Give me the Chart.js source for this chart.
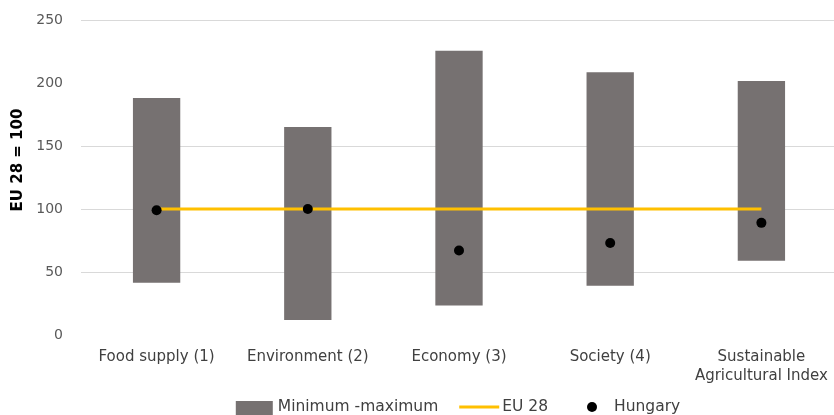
<!DOCTYPE html>
<html>
<head>
<meta charset="utf-8">
<script src="https://cdn.jsdelivr.net/npm/chart.js@4"></script>
<style>
  html, body { margin: 0; padding: 0; background: #fff; overflow: hidden; }
  #wrap { width: 842px; height: 415px; }
</style>
</head>
<body>
<div id="wrap"><canvas id="c" width="842" height="415"></canvas></div>
<script>
// Pillar categories of the sustainable agriculture index
const categories = ['Food supply (1)', 'Environment (2)', 'Economy (3)', 'Society (4)', ['Sustainable', 'Agricultural Index']];
// Range across member states (EU 28 = 100)
const minValues = [41.5, 12, 23.5, 39, 59];
const maxValues = [188, 165, 225.5, 208.5, 201.5];
// EU 28 reference level
const eu28Values = [100, 100, 100, 100, 100];
// Hungary's scores
const hungaryValues = [99, 100, 67, 73, 89];
// Y axis ticks
const yTicks = [0, 50, 100, 150, 200, 250];
const hiddenGridValues = [0, 200];
const yAxisTitle = 'EU 28 = 100';

const FONT = 'DejaVu Sans';

const rangeData = minValues.map((v, i) => [v, maxValues[i]]);

// Axis title and legend row drawn on top of the chart
const decorPlugin = {
  id: 'decor',
  afterDraw(chart) {
    const ctx = chart.ctx;
    const ds = chart.data.datasets;
    const area = chart.chartArea;

    // rotated y axis title
    ctx.save();
    ctx.translate(18, 160);
    ctx.rotate(-Math.PI / 2);
    ctx.font = 'bold 15px "' + FONT + '"';
    ctx.fillStyle = '#000000';
    ctx.textAlign = 'center';
    ctx.textBaseline = 'middle';
    ctx.fillText(yAxisTitle, 0, 0);
    ctx.restore();

    // legend
    const y = 407;
    ctx.save();
    ctx.font = '15.5px "' + FONT + '"';
    ctx.textBaseline = 'middle';
    const t0 = ds[2].label, t1 = ds[1].label, t2 = ds[0].label;
    const w0 = ctx.measureText(t0).width, w1 = ctx.measureText(t1).width, w2 = ctx.measureText(t2).width;
    const total = 37 + 5 + w0 + 21 + 40 + 3 + w1 + 39 + 10 + 17 + w2;
    let x = (area.left + area.right) / 2 - total / 2 - 1;
    ctx.fillStyle = ds[2].backgroundColor;
    ctx.fillRect(x, y - 6, 37, 14);
    x += 37 + 5;
    ctx.fillStyle = '#404040';
    ctx.fillText(t0, x, y);
    x += w0 + 21;
    ctx.strokeStyle = ds[1].borderColor;
    ctx.lineWidth = 3;
    ctx.beginPath();
    ctx.moveTo(x, y);
    ctx.lineTo(x + 40, y);
    ctx.stroke();
    x += 40 + 3;
    ctx.fillText(t1, x, y);
    x += w1 + 39;
    ctx.fillStyle = ds[0].pointBackgroundColor;
    ctx.beginPath();
    ctx.arc(x + 5, y, 5, 0, Math.PI * 2);
    ctx.fill();
    x += 10 + 17;
    ctx.fillStyle = '#404040';
    ctx.fillText(t2, x, y);
    ctx.restore();
  }
};

new Chart(document.getElementById('c'), {
  data: {
    labels: categories,
    datasets: [
      {
        type: 'line',
        label: 'Hungary',
        data: hungaryValues,
        showLine: false,
        pointRadius: 5,
        pointHoverRadius: 5,
        pointBackgroundColor: '#000000',
        pointBorderColor: '#000000',
        pointBorderWidth: 0,
        order: 0
      },
      {
        type: 'line',
        label: 'EU 28',
        data: eu28Values,
        borderColor: '#FFC000',
        borderWidth: 3,
        pointRadius: 0,
        fill: false,
        order: 1
      },
      {
        type: 'bar',
        label: 'Minimum -maximum',
        data: rangeData,
        backgroundColor: '#767171',
        borderWidth: 0,
        barPercentage: 0.313,
        categoryPercentage: 1,
        order: 2
      }
    ]
  },
  options: {
    responsive: false,
    animation: false,
    layout: { padding: { top: 20, right: 3, bottom: 0, left: 0 } },
    plugins: {
      legend: { display: false },
      tooltip: { enabled: false }
    },
    scales: {
      x: {
        afterFit(scale) { scale.height = 80; },
        grid: { display: false },
        border: { display: false },
        ticks: {
          color: '#404040',
          font: { family: FONT, size: 15, lineHeight: 1.25 },
          padding: 5,
          maxRotation: 0,
          autoSkip: false
        }
      },
      y: {
        min: 0,
        max: 250,
        afterBuildTicks(scale) { scale.ticks = yTicks.map(v => ({ value: v })); },
        afterFit(scale) {
          scale.width = 81;
          scale.paddingTop = 0;
          scale.paddingBottom = 0;
        },
        border: { display: false },
        grid: {
          drawTicks: false,
          lineWidth: 1,
          color: c => hiddenGridValues.includes(c.tick.value) ? 'rgba(0,0,0,0)' : '#d9d9d9'
        },
        ticks: {
          color: '#595959',
          font: { family: FONT, size: 14 },
          padding: 18
        },
        title: { display: false }
      }
    }
  },
  plugins: [decorPlugin]
});
</script>
</body>
</html>
